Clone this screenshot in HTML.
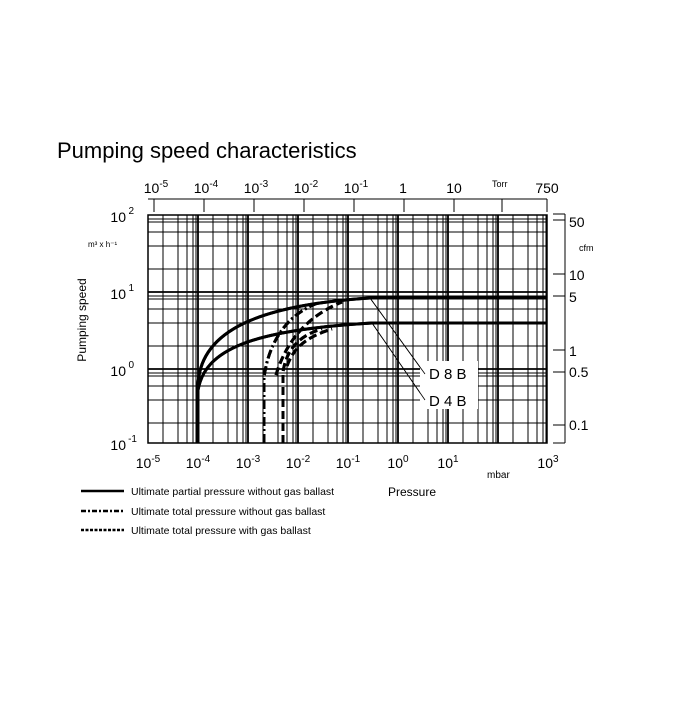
<!DOCTYPE html>
<html><head><style>
body{margin:0;background:#fff;}
svg text{font-family:"Liberation Sans",sans-serif;fill:#000;}
</style></head><body>
<svg width="700" height="700" viewBox="0 0 700 700" xmlns="http://www.w3.org/2000/svg">
<text x="57" y="158" font-size="22">Pumping speed characteristics</text>
<g id="grid" stroke="#000" fill="none">
<!-- vertical grid -->
<g stroke-width="1">
<script type="text/javascript"></script>
</g>
</g>
<g stroke="#000" stroke-width="1" fill="none" id="g"></g>
<rect x="148" y="215" width="399" height="228" fill="none" stroke="#000" stroke-width="1.5"/>
<!-- D labels box -->
<rect x="420" y="357" width="58" height="54" fill="#fff"/>
<!-- curves -->
<g fill="none" stroke="#000" stroke-width="3">
<path d="M198,443 L198,385 C200,330 260,305 370,298 L547,298"/>
<path d="M198,443 L198,390 C205,350 250,330 372,323 L547,323"/>
</g>
<g fill="none" stroke="#000" stroke-width="3">
<path d="M264,443 L264,378 C268,345 285,315 318,303" stroke-dasharray="9,3,2,3"/>
<path d="M283,443 L283,372 C286,352 297,336 322,329" stroke-dasharray="8,4"/>
<path d="M276,375 C284,348 302,318 342,302" stroke-dasharray="8,4"/>
<path d="M287,366 C293,350 303,338 332,329" stroke-dasharray="8,4"/>
</g>
<g stroke="#000" stroke-width="0.8"><line x1="370" y1="298" x2="425" y2="374"/><line x1="372" y1="323" x2="425" y2="400"/></g>
<text x="429" y="379" font-size="15">D 8 B</text>
<text x="429" y="406" font-size="15">D 4 B</text>
<!-- top axis -->
<g stroke="#000" stroke-width="1"><line x1="148" y1="199" x2="547" y2="199"/>
<line x1="154" y1="199" x2="154" y2="212"/><line x1="204" y1="199" x2="204" y2="212"/><line x1="254" y1="199" x2="254" y2="212"/><line x1="304" y1="199" x2="304" y2="212"/><line x1="354" y1="199" x2="354" y2="212"/><line x1="404" y1="199" x2="404" y2="212"/><line x1="454" y1="199" x2="454" y2="212"/><line x1="502" y1="199" x2="502" y2="212"/><line x1="547" y1="199" x2="547" y2="212"/></g>
<g font-size="14" text-anchor="middle">
<text x="156" y="193">10<tspan dy="-6" font-size="10">-5</tspan></text>
<text x="206" y="193">10<tspan dy="-6" font-size="10">-4</tspan></text>
<text x="256" y="193">10<tspan dy="-6" font-size="10">-3</tspan></text>
<text x="306" y="193">10<tspan dy="-6" font-size="10">-2</tspan></text>
<text x="356" y="193">10<tspan dy="-6" font-size="10">-1</tspan></text>
<text x="403" y="193">1</text>
<text x="454" y="193">10</text>
<text x="547" y="193">750</text>
</g>
<text x="492" y="187" font-size="9">Torr</text>
<!-- left axis -->
<g font-size="14" text-anchor="end">
<text x="126" y="222">10</text><text x="134" y="214" font-size="10">2</text>
<text x="126" y="299">10</text><text x="134" y="291" font-size="10">1</text>
<text x="126" y="376">10</text><text x="134" y="368" font-size="10">0</text>
<text x="126" y="450">10</text><text x="137" y="442" font-size="10">-1</text>
</g>
<text x="88" y="247" font-size="8">m³ x h⁻¹</text>
<text transform="translate(86,320) rotate(-90)" font-size="12" text-anchor="middle">Pumping speed</text>
<!-- bottom axis -->
<g font-size="14" text-anchor="middle">
<text x="148" y="468">10<tspan dy="-6" font-size="10">-5</tspan></text>
<text x="198" y="468">10<tspan dy="-6" font-size="10">-4</tspan></text>
<text x="248" y="468">10<tspan dy="-6" font-size="10">-3</tspan></text>
<text x="298" y="468">10<tspan dy="-6" font-size="10">-2</tspan></text>
<text x="348" y="468">10<tspan dy="-6" font-size="10">-1</tspan></text>
<text x="398" y="468">10<tspan dy="-6" font-size="10">0</tspan></text>
<text x="448" y="468">10<tspan dy="-6" font-size="10">1</tspan></text>
<text x="548" y="468">10<tspan dy="-6" font-size="10">3</tspan></text>
</g>
<text x="487" y="478" font-size="10">mbar</text>
<text x="388" y="496" font-size="12">Pressure</text>
<!-- right axis -->
<g stroke="#000" stroke-width="1"><line x1="565" y1="214" x2="565" y2="443"/>
<line x1="553" y1="214" x2="565" y2="214"/><line x1="553" y1="220" x2="565" y2="220"/><line x1="553" y1="274" x2="565" y2="274"/><line x1="553" y1="296" x2="565" y2="296"/><line x1="553" y1="350" x2="565" y2="350"/><line x1="553" y1="372" x2="565" y2="372"/><line x1="553" y1="425" x2="565" y2="425"/><line x1="553" y1="443" x2="565" y2="443"/></g>
<g font-size="14">
<text x="569" y="227">50</text><text x="569" y="280">10</text><text x="569" y="302">5</text><text x="569" y="356">1</text><text x="569" y="377">0.5</text><text x="569" y="430">0.1</text>
</g>
<text x="579" y="251" font-size="9">cfm</text>
<!-- legend -->
<g stroke="#000" stroke-width="2.5">
<line x1="81" y1="491" x2="124" y2="491"/>
<line x1="81" y1="511" x2="124" y2="511" stroke-dasharray="5,2,2,2"/>
<line x1="81" y1="530" x2="124" y2="530" stroke-dasharray="3,1.5"/>
</g>
<g font-size="10.5"><text x="131" y="495">Ultimate partial pressure without gas ballast</text>
<text x="131" y="515">Ultimate total pressure without gas ballast</text>
<text x="131" y="534">Ultimate total pressure with gas ballast</text></g>
<g id="gridlines" stroke="#000" stroke-width="1">
<!-- verticals: decades at 148+50k; minors 2,4,6,8,9 -->
<path d="M198,215V443M248,215V443M298,215V443M348,215V443M398,215V443M448,215V443M498,215V443" stroke-width="1.8"/>
<path d="M163,215V443M178,215V443M187,215V443M193,215V443M196,215V443
M213,215V443M228,215V443M237,215V443M243,215V443M246,215V443
M263,215V443M278,215V443M287,215V443M293,215V443M296,215V443
M313,215V443M328,215V443M337,215V443M343,215V443M346,215V443
M363,215V443M378,215V443M387,215V443M393,215V443M396,215V443
M413,215V443M428,215V443M437,215V443M443,215V443M446,215V443
M463,215V443M478,215V443M487,215V443M493,215V443M496,215V443
M513,215V443M528,215V443M537,215V443M543,215V443M546,215V443"/>
<path d="M148,292H547M148,369H547" stroke-width="1.8"/>
<path d="M148,219H547M148,222H547M148,232H547M148,246H547M148,269H547
M148,296H547M148,299H547M148,309H547M148,323H547M148,346H547
M148,373H547M148,376H547M148,386H547M148,400H547M148,423H547"/>
</g>
<!-- redraw labels box and curves on top of grid -->
<rect x="420" y="361" width="58" height="48" fill="#fff"/>
<g stroke="#000" stroke-width="0.8"><line x1="370" y1="298" x2="425" y2="374"/><line x1="372" y1="323" x2="425" y2="400"/></g>
<text x="429" y="379" font-size="15">D 8 B</text>
<text x="429" y="406" font-size="15">D 4 B</text>
<g fill="none" stroke="#000" stroke-width="3">
<path d="M198,443 L198,385 C200,330 260,305 370,298 L547,298"/>
<path d="M198,443 L198,390 C205,350 250,330 372,323 L547,323"/>
<path d="M264,443 L264,378 C268,345 285,315 318,303" stroke-dasharray="9,3,2,3"/>
<path d="M283,443 L283,372 C286,352 297,336 322,329" stroke-dasharray="8,4"/>
<path d="M276,375 C284,348 302,318 342,302" stroke-dasharray="8,4"/>
<path d="M287,366 C293,350 303,338 332,329" stroke-dasharray="8,4"/>
</g>
</svg>
</body></html>
